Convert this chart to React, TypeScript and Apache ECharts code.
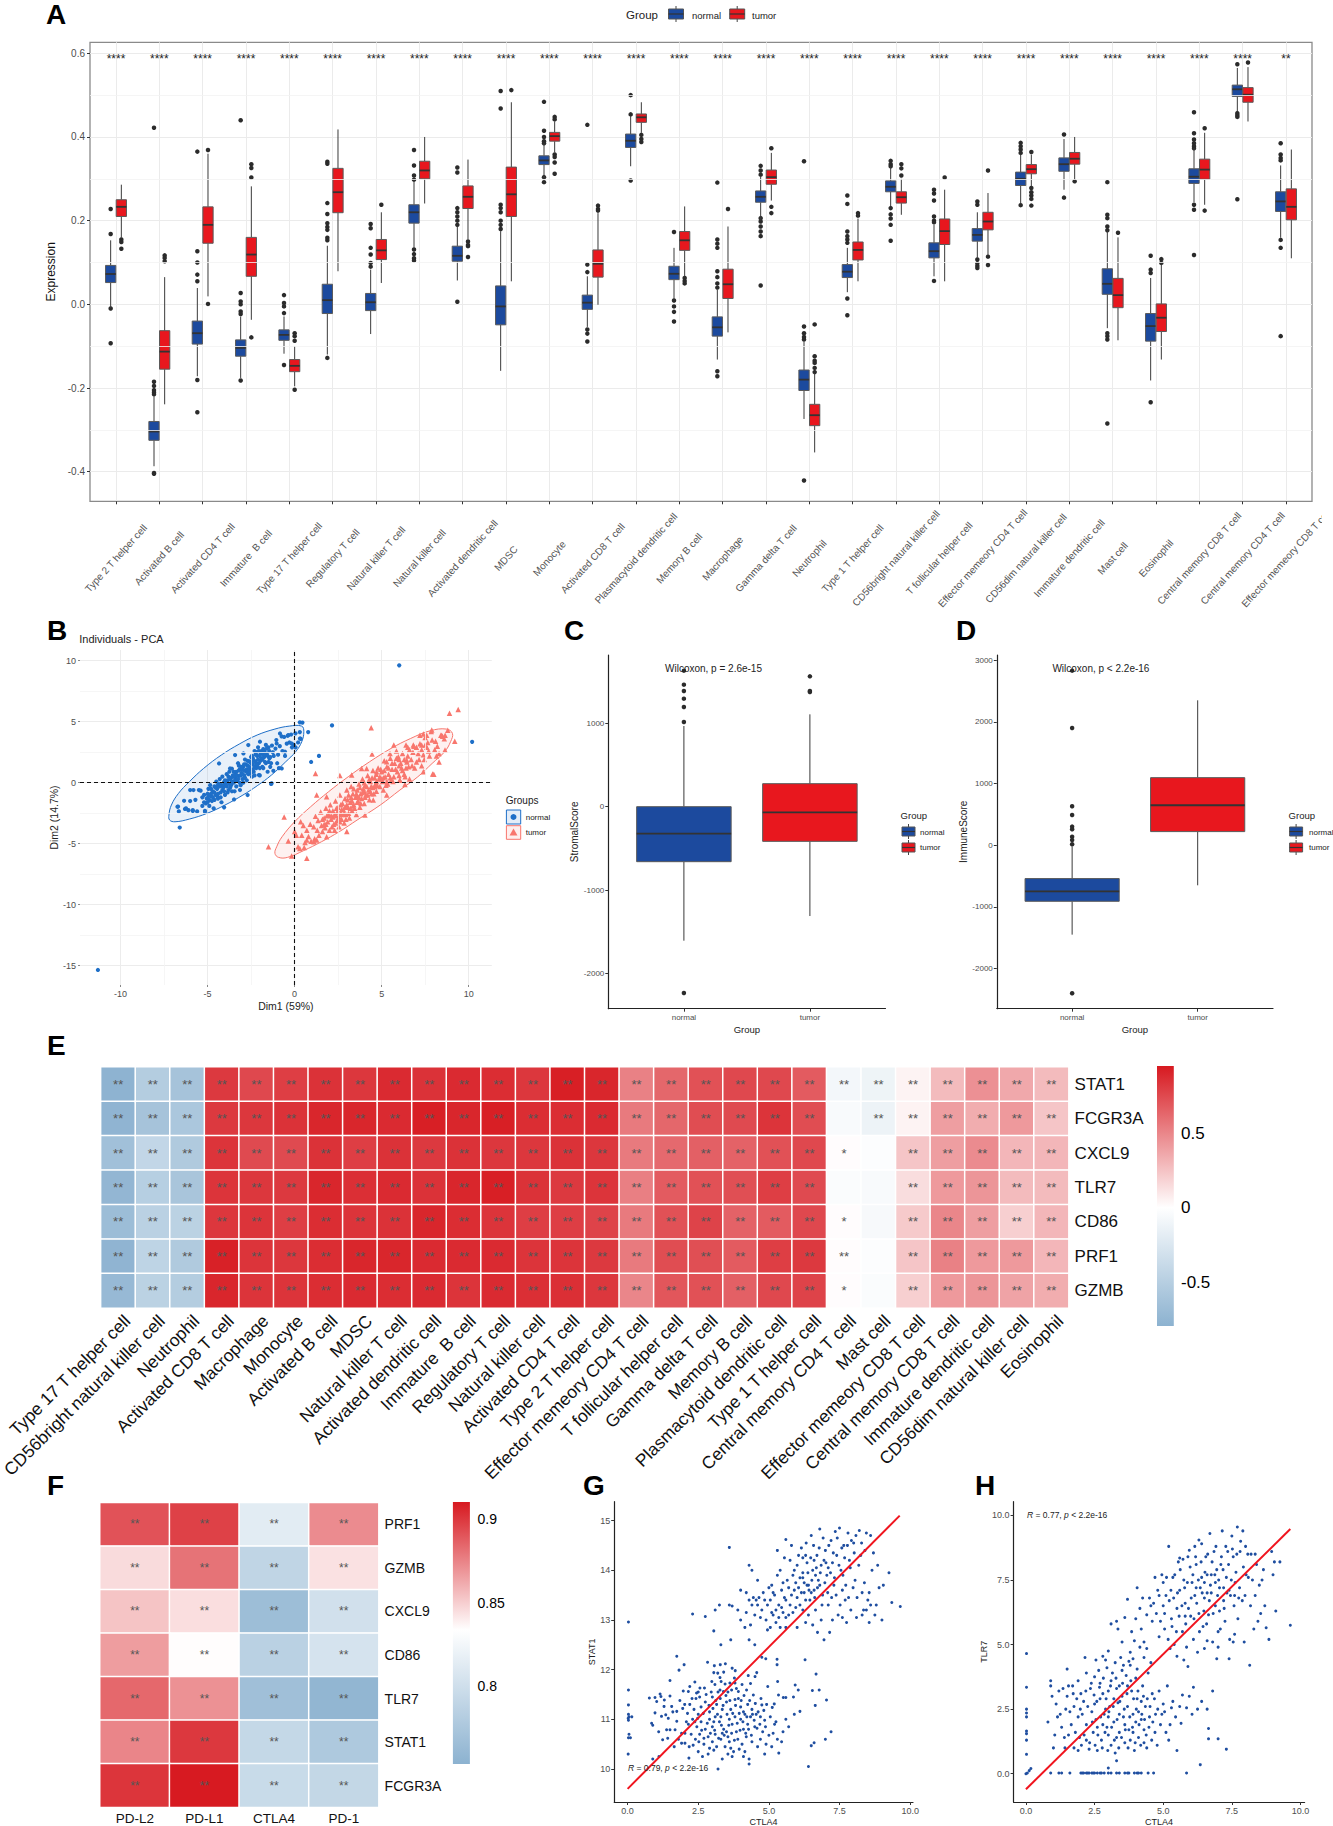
import React, { useEffect, useRef } from 'react';
import * as echarts from 'echarts';

const FONT = '"Liberation Sans", Arial, sans-serif';
const BLUE = '#1C4A9E';
const RED = '#E8171E';

// Panel A: cell types, boxes as [low whisker, q1, median, q3, high whisker]
const cellsA = ['Type 2 T helper cell', 'Activated B cell', 'Activated CD4 T cell', 'Immature  B cell', 'Type 17 T helper cell', 'Regulatory T cell', 'Natural killer T cell', 'Natural killer cell', 'Activated dendritic cell', 'MDSC', 'Monocyte', 'Activated CD8 T cell', 'Plasmacytoid dendritic cell', 'Memory B cell', 'Macrophage', 'Gamma delta T cell', 'Neutrophil', 'Type 1 T helper cell', 'CD56bright natural killer cell', 'T follicular helper cell', 'Effector memeory CD4 T cell', 'CD56dim natural killer cell', 'Immature dendritic cell', 'Mast cell', 'Eosinophil', 'Central memory CD8 T cell', 'Central memory CD4 T cell', 'Effector memeory CD8 T cell'];
const starsA = ['****', '****', '****', '****', '****', '****', '****', '****', '****', '****', '****', '****', '****', '****', '****', '****', '****', '****', '****', '****', '****', '****', '****', '****', '****', '****', '****', '**'];
const normalBoxA = [[-0.009, 0.052, 0.0725, 0.093, 0.153], [-0.387, -0.325, -0.304, -0.28, -0.22], [-0.172, -0.095, -0.069, -0.04, 0.039], [-0.176, -0.124, -0.104, -0.085, -0.029], [-0.118, -0.086, -0.073, -0.061, -0.029], [-0.12, -0.022, 0.01, 0.048, 0.14], [-0.071, -0.015, 0.005, 0.026, 0.083], [0.135, 0.194, 0.22, 0.238, 0.295], [0.057, 0.103, 0.116, 0.139, 0.186], [-0.159, -0.049, -0.005, 0.044, 0.175], [0.3, 0.334, 0.344, 0.355, 0.385], [-0.054, -0.012, 0.004, 0.022, 0.067], [0.33, 0.375, 0.391, 0.407, 0.45], [0.013, 0.059, 0.073, 0.091, 0.135], [-0.132, -0.076, -0.055, -0.03, 0.035], [0.2, 0.244, 0.257, 0.271, 0.305], [-0.274, -0.206, -0.18, -0.157, -0.09], [0.029, 0.064, 0.078, 0.095, 0.135], [0.235, 0.269, 0.281, 0.295, 0.33], [0.067, 0.111, 0.127, 0.147, 0.19], [0.111, 0.151, 0.166, 0.181, 0.22], [0.242, 0.284, 0.3, 0.316, 0.358], [0.274, 0.318, 0.335, 0.35, 0.395], [-0.057, 0.024, 0.049, 0.085, 0.177], [-0.182, -0.088, -0.052, -0.022, 0.063], [0.244, 0.289, 0.305, 0.324, 0.373], [0.461, 0.497, 0.514, 0.524, 0.565], [0.159, 0.222, 0.246, 0.269, 0.332]];
const tumorBoxA = [[0.159, 0.21, 0.233, 0.25, 0.286], [-0.239, -0.155, -0.113, -0.063, 0.065], [0.019, 0.146, 0.19, 0.233, 0.36], [-0.037, 0.067, 0.119, 0.16, 0.282], [-0.196, -0.161, -0.147, -0.132, -0.1], [0.079, 0.219, 0.268, 0.325, 0.418], [0.051, 0.107, 0.129, 0.155, 0.22], [0.241, 0.3, 0.32, 0.342, 0.4], [0.155, 0.229, 0.257, 0.283, 0.346], [0.055, 0.21, 0.263, 0.328, 0.483], [0.363, 0.39, 0.402, 0.411, 0.437], [-0.001, 0.065, 0.097, 0.13, 0.218], [0.41, 0.435, 0.447, 0.455, 0.483], [0.067, 0.129, 0.153, 0.174, 0.234], [-0.067, 0.014, 0.048, 0.084, 0.186], [0.248, 0.287, 0.304, 0.321, 0.362], [-0.354, -0.29, -0.265, -0.239, -0.165], [0.055, 0.106, 0.13, 0.149, 0.205], [0.214, 0.242, 0.256, 0.269, 0.3], [0.055, 0.143, 0.175, 0.204, 0.274], [0.119, 0.178, 0.198, 0.22, 0.266], [0.282, 0.312, 0.323, 0.334, 0.358], [0.298, 0.335, 0.348, 0.363, 0.4], [-0.086, -0.008, 0.022, 0.062, 0.16], [-0.132, -0.065, -0.032, 0.001, 0.095], [0.238, 0.299, 0.322, 0.347, 0.41], [0.437, 0.483, 0.501, 0.518, 0.567], [0.11, 0.202, 0.233, 0.276, 0.37]];
const normalOutA = [[0.228, 0.168, -0.01, -0.093], [0.422, -0.185, -0.195, -0.205, -0.21, -0.215, -0.405, -0.403], [0.365, 0.127, 0.1, 0.071, 0.055, -0.181, -0.258], [0.44, 0.027, 0.007, 0, -0.017, -0.023, -0.182], [0.022, 0.003, -0.005, -0.021, -0.145], [0.341, 0.336, 0.242, 0.216, 0.194, 0.185, 0.178, 0.159, 0.153, -0.128], [0.192, 0.182, 0.135, 0.119, 0.099, 0.09], [0.369, 0.332, 0.308, 0.298, 0.131, 0.12, 0.11, 0.105], [0.327, 0.315, 0.23, 0.22, 0.21, 0.2, 0.19, 0.006], [0.51, 0.468, 0.238, 0.23, 0.22, 0.2, 0.19, 0.18], [0.484, 0.415, 0.4, 0.39, 0.385, 0.304, 0.292], [0.429, 0.095, 0.077, -0.06, -0.07, -0.089], [0.5, 0.454, 0.296], [0.173, 0.009, -0.005, -0.018, -0.041], [0.291, 0.155, 0.145, 0.135, 0.079, 0.065, 0.05, 0.04, -0.16, -0.172], [0.331, 0.32, 0.31, 0.206, 0.198, 0.186, 0.174, 0.163, 0.045], [0.342, -0.053, -0.069, -0.078, -0.084, -0.421], [0.26, 0.24, 0.174, 0.163, 0.155, 0.147, 0.014, -0.026], [0.343, 0.335, 0.33, 0.23, 0.215, 0.205, 0.19, 0.152], [0.274, 0.265, 0.248, 0.21, 0.2, 0.196, 0.056], [0.246, 0.238, 0.107, 0.098, 0.092, 0.087], [0.386, 0.378, 0.37, 0.362, 0.237], [0.406, 0.255], [0.292, 0.214, 0.206, 0.186, 0.177, -0.069, -0.076, -0.084, -0.285], [0.116, 0.083, 0.075, -0.234], [0.459, 0.409, 0.394, 0.385, 0.378, 0.373, 0.238, 0.226, 0.118], [0.574, 0.457, 0.452, 0.448, 0.251], [0.385, 0.358, 0.35, 0.344, 0.154, 0.135, -0.076]];
const tumorOutA = [[0.155, 0.149, 0.133], [0.117, 0.111, 0.103], [0.369, 0.001], [0.335, 0.326, 0.303, -0.079], [-0.069, -0.076, -0.087, -0.204], [], [0.238], [], [0.15, 0.142, 0.139, 0.113], [0.512], [0.448, 0.442, 0.358, 0.352, 0.339, 0.312], [0.236, 0.228, 0.224], [0.405, 0.395, 0.388], [0.063, 0.056, 0.05], [0.228], [0.373, 0.233, 0.218], [-0.048, -0.124, -0.135, -0.14, -0.152, -0.162], [0.218, 0.212], [0.335, 0.325, 0.308], [0.303], [0.32, 0.114, 0.094], [0.364, 0.278, 0.268, 0.26, 0.252, 0.236], [0.294], [0.171], [0.108, 0.099], [0.421, 0.224], [0.578], []];
const minorYA = [-0.3, -0.1, 0.1, 0.3, 0.5];

// Panel B: PCA individuals and confidence ellipses
const pcaNormal = [[6.01, 9.62], [10.2, 3.35], [-11.3, -15.35], [-6.6, -3.67], [2.15, 4.7], [0.3, 4.95], [0.45, 4.93], [0.78, 4.15], [0.95, 1.7], [1.4, 2.2], [-6.7, -1.95], [-6.65, -2.35], [-6.3, -2.15], [-6.1, -2.25], [-5.85, -2.25], [-5.6, -2.35], [-5.3, -1.9], [-6, -1.5], [-5.7, -1.4], [-5.5, -0.6], [-5.4, -0.65], [-5.3, -1.2], [-5.15, -2.3], [-5.2, -1.6], [-5.05, -1.3], [-5, -0.9], [-4.9, -1.9], [-4.95, -0.5], [-4.85, -0.2], [-4.8, -1.1], [-4.75, -1.5], [-4.7, -0.7], [-4.65, -2.1], [-4.6, -0.3], [-4.55, -1], [-4.5, 0.1], [-4.45, -0.5], [-4.4, -1.3], [-4.35, -0.1], [-4.3, 0.3], [-4.25, -0.8], [-4.2, -1.6], [-4.15, 0.5], [-4.1, -0.4], [-4.05, 0.05], [-4, -1], [-3.95, -0.1], [-3.9, 0.7], [-3.85, 0.2], [-3.8, -0.6], [-3.75, 0.9], [-3.7, 0.3], [-3.65, -0.2], [-3.6, 1.15], [-3.55, 0.6], [-3.5, 0], [-3.45, -0.7], [-3.4, 0.4], [-3.35, 0.9], [-3.3, 0.15], [-3.25, 1.6], [-3.2, 0.55], [-3.15, 1.1], [-3.1, -0.2], [-3.05, 0.8], [-3, 0.3], [-2.95, 1.3], [-2.9, 0.6], [-2.85, 1.9], [-2.8, 0.95], [-2.75, 0.2], [-2.7, 1.4], [-2.65, 0.7], [-2.6, 1.75], [-2.55, 1.1], [-2.5, 2.1], [-2.45, 0.5], [-2.4, 1.5], [-2.35, 0.9], [-2.3, 2.6], [-2.25, 1.75], [-2.2, 1.2], [-2.15, 2.2], [-2.1, 2.9], [-2.05, 1.6], [-2, 0.6], [-1.95, 2.4], [-1.9, 2], [-1.85, 1.3], [-1.8, 2.75], [-1.75, 2.1], [-1.7, 1.7], [-1.65, 3.1], [-1.6, 2.4], [-1.55, 0.9], [-1.5, 2.9], [-1.45, 2], [-1.4, 1.3], [-1.35, -0.1], [-1.3, 3.05], [-1.25, 2.5], [-1.2, 2.2], [-1.1, 2.8], [-1.05, 3.5], [-1, 1.6], [-0.95, 2.3], [-0.9, 1.2], [-0.85, 3], [-0.75, 3.8], [-0.7, 2.6], [-0.6, 3.75], [-0.55, 2.2], [-0.45, 3.2], [-0.4, 3.85], [-0.3, 3.3], [-0.2, 3.95], [-0.15, 2.9], [-0.05, 3.1], [0.05, 2.9], [0.05, 4.05], [0.2, 3.3], [0.3, 4.15], [0.35, 3.6], [-4.4, -0.9], [-4.2, -0.2], [-4, 0.2], [-3.8, 0.5], [-3.6, 0.1], [-3.4, 0.7], [-3.2, 1], [-3, 1.1], [-2.8, 1.5], [-2.6, 1.3], [-2.4, 2], [-2.2, 1.6], [-2, 2.2], [-1.8, 2.3], [-3.9, -0.3], [-3.7, -0.4], [-3.5, 0.5], [-3.3, 0.6], [-3.1, 0.6], [-2.9, 1], [-2.7, 0.8], [-2.5, 1.6], [-2.3, 1.3], [-4.6, -0.8], [-4.8, -0.5], [-4.9, -1.4], [-4.3, -0.3],
  [-2.66, 3.09], [-1.99, 3.36], [-0.84, 4.04], [-0.36, 3.9], [-1.03, 3.22], [-0.55, 2.54], [-0.17, 3.22], [0.31, 3.63], [-4.34, 1.58], [-3.42, 2.27], [-2.94, 2.4], [-3.71, 1.17], [-6, -0.6], [-5.81, -0.6], [-6.35, -1.48], [-6.73, -1.97], [-6.24, -2.1], [-5.85, -2.32], [-5.15, -2.38], [-4.05, -2.02], [-3.48, -1.37], [-2.7, -1.01], [-3.14, -0.6], [-1.32, -0.05], [-0.74, 1.17], [-1.22, 0.98], [-2.05, 0.63], [-5.2, -1], [-5.1, -1.7], [-5, -1.6], [-4.95, -1.1], [-4.8, -0.9], [-4.7, -1.2], [-4.6, -1.4], [-4.55, -0.4], [-4.45, -1.1], [-4.4, -0.2], [-4.25, -1.2], [-4.15, -0.6], [-4.05, -0.7], [-4, -0.2], [-3.9, 0.1], [-3.85, -0.8], [-3.75, -0.1], [-3.65, 0.4], [-3.6, -0.7], [-3.5, 0.9], [-3.45, 0.15], [-3.35, -0.3], [-3.25, 0.3], [-3.2, 1.4], [-3.15, 0], [-3.05, 1.3], [-3, 0.7], [-2.95, 0], [-2.9, 1.5], [-2.85, 0.4], [-2.75, 1.1], [-2.7, 1.8], [-2.65, 1], [-2.55, 1.7], [-2.5, 0.8], [-2.45, 2.2], [-2.4, 1.1], [-2.35, 1.8], [-2.3, 0.6], [-2.25, 2.3], [-2.2, 2.5], [-2.15, 1.4], [-2.1, 1.9], [-2.05, 2.6], [-2, 1.2], [-1.95, 1.8], [-1.9, 2.6], [-1.85, 1.9], [-1.8, 1.2], [-1.75, 2.6], [-1.7, 2.3], [-1.65, 1.6], [-1.6, 2.8], [-1.55, 2.2], [-1.5, 1.7], [-1.45, 2.6], [-1.4, 2.1], [-1.35, 1.6]];
const pcaTumor = [[9.4, 6], [8.9, 5.7], [4.4, 4.5], [1.2, 0.75], [-0.6, -2.8], [-1.5, -5.25], [0.7, -6.2], [2.6, 0.6], [9.2, 3.4], [-0.36, -4.78], [0.2, -5.25], [-0.17, -6], [0, -4], [0.1, -4.3], [0.3, -5.4], [0.35, -3.2], [0.5, -3.5], [0.6, -4.9], [0.7, -3.9], [0.8, -4.4], [0.9, -3.4], [0.55, -5.3], [0.95, -4.8], [1.1, -3.6], [1.15, -4.6], [1.2, -2.75], [1.3, -3.9], [1.35, -3.1], [1.4, -4.3], [1.5, -2.4], [1.55, -3.5], [1.6, -4], [1.7, -2.9], [1.75, -3.7], [1.8, -2.1], [1.9, -3.2], [1.95, -2.6], [2, -3.9], [2.05, -1.8], [2.1, -3], [2.2, -2.3], [2.25, -3.4], [2.3, -3.9], [2.35, -1.5], [2.4, -2.7], [2.45, -3.1], [2.5, -2], [2.55, -3.6], [2.6, -1], [2.65, -2.5], [2.7, -3], [2.75, -1.7], [2.8, -2.2], [2.85, -3.3], [2.9, -1.3], [2.95, -2.6], [3, -0.6], [3.05, -2], [3.1, -1], [3.15, -2.9], [3.2, -1.6], [3.25, -0.3], [3.3, -2.3], [3.35, -0.9], [3.4, -1.8], [3.5, -1.2], [3.55, -2.6], [3.6, -0.6], [3.65, -1.5], [3.7, -0.1], [3.75, -2], [3.8, -0.9], [3.85, -1.3], [3.9, 0.3], [3.95, -0.5], [4, -1.7], [4.05, -0.2], [4.1, -1], [4.2, 0.6], [4.25, -0.6], [4.3, -1.4], [4.35, 0.1], [4.4, -0.3], [4.45, 2.35], [4.5, 1], [4.55, -0.9], [4.6, 0.4], [4.65, -0.1], [4.7, -0.7], [4.8, 1.2], [4.85, 0.3], [4.9, -0.3], [5, 0.9], [5.05, 0.1], [5.1, -0.6], [5.15, 1.8], [5.2, 0.5], [5.3, 1.3], [5.35, -0.1], [5.4, 0.7], [5.5, 2], [5.55, 0.2], [5.6, 1.1], [5.7, 3.1], [5.7, 0.5], [5.75, 1.6], [5.85, 2.6], [5.9, 0.9], [6, 1.9], [6.05, 0.2], [6.15, 1.2], [6.2, 2.4], [6.3, 0.7], [6.4, 3.1], [6.45, 1.7], [6.5, 2.9], [6.6, 0.3], [6.7, 1.9], [6.8, 2.5], [6.9, 1.2], [7, 2.9], [7.15, 1.9], [7.2, 3.2], [7.3, 1.4], [7.4, 2.3], [7.5, 3.7], [7.6, 2.9], [7.7, 2.6], [7.85, 4.2], [7.9, 3.5], [8, 0.7], [8.05, 2.7], [8.2, 3], [8.3, 1.7], [8.4, 3.9], [8.5, 3.8], [8.6, 3.6], [8.65, 3.9], [8.8, 4.3], [8.3, 2.4], [7.4, 4], [7.2, 3.9], [1.8, -3.4], [2.2, -2.8], [2.5, -3], [2.7, -2.2], [3, -1.8], [3.3, -1.5], [3.6, -1.1], [4, -0.7], [4.4, -0.9], [4.7, 0.1], [5, 0.3], [5.3, 0.1], [6, 1.4], [6.4, 1.2],
  [1.27, -1.01], [1.84, -1.15], [3.28, 0.63], [3.85, 1.17], [4.14, 1.17], [4.71, 0.9], [5.29, 1.72], [5.48, 2.4], [5.96, 2.13], [6.44, 1.86], [6.82, 3.09], [7.3, 3.09], [7.59, 3.9], [7.88, 4.32], [8.45, 3.9], [8.64, 2.68], [7.93, 0.71], [7.4, 0.9], [6.34, -0.14], [6.05, 0.22], [5.29, -1.01], [4.52, -1.42], [4.04, -2.65], [3, -4], [1.84, -4.43], [1.27, -4.7], [1.11, -4.84], [0.7, -4.7], [0.41, -4.3], [1.6, -3], [1.7, -3.4], [1.85, -2.7], [2, -2.3], [2.1, -2.7], [2.15, -3.6], [2.3, -2.6], [2.35, -3.3], [2.4, -2.1], [2.45, -2.4], [2.55, -2.8], [2.6, -3.2], [2.65, -1.8], [2.7, -2.6], [2.85, -2.5], [2.9, -2], [2.95, -3], [3.05, -1.4], [3.1, -2.5], [3.2, -2.1], [3.25, -1.2], [3.35, -1.9], [3.4, -0.5], [3.45, -2.1], [3.55, -0.9], [3.6, -1.6], [3.7, -1.2], [3.75, -0.4], [3.8, -1.7], [3.9, -0.8], [4, 0], [4.05, -1.2], [4.15, -0.3], [4.2, -1], [4.3, 0.3], [4.35, -0.7], [4.45, 0.4], [4.5, -0.4], [4.6, -0.3], [4.7, 0.7], [4.75, -0.2], [4.9, 0.5], [4.95, 1.1], [5.1, 0.4], [5.15, 1], [5.25, -0.2], [5.4, 1.2], [5.5, 0.4], [5.6, 1.6], [5.65, 0.1], [5.8, 1.1], [5.85, 2], [6, 0.6], [6.1, 1.6], [6.2, 1], [6.3, 1.9], [6.35, 0.5], [6.5, 2.2], [6.55, 1.3], [6.6, 2.7], [6.75, 1.4], [6.85, 3], [7, 1.7], [7.1, 2.4], [7.3, 2.7], [7.45, 1.9], [7.5, 3.1], [7.65, 3.3], [7.75, 2.2], [8.1, 3.4], [8.15, 2.2]];
const ellipseNormal = [[-7.22, -2.65], [-7.08, -1.83], [-6.67, -0.87], [-6.05, 0.08], [-5.23, 1.17], [-4.21, 2.27], [-3.18, 3.17], [-2.15, 3.91], [-1.13, 4.4], [-0.31, 4.64], [0.41, 4.64], [0.53, 4.18], [0.41, 3.36], [0.06, 2.54], [-0.51, 1.72], [-1.33, 0.63], [-2.15, -0.25], [-2.97, -1.01], [-4, -1.83], [-5.03, -2.51], [-6.05, -2.98], [-6.87, -3.2], [-7.18, -3.06]];
const ellipseTumor = [[-1.13, -5.79], [-1.03, -5.25], [-0.72, -4.43], [0, -3.2], [0.92, -1.97], [1.95, -0.74], [3.08, 0.49], [4.31, 1.72], [5.54, 2.81], [6.67, 3.63], [7.79, 4.26], [8.72, 4.4], [9.07, 4.04], [8.96, 3.36], [8.62, 2.54], [7.9, 1.58], [7.08, 0.49], [6.05, -0.6], [4.92, -1.83], [3.59, -3.06], [2.56, -4.02], [1.54, -4.84], [0.51, -5.57], [-0.41, -6.12], [-0.92, -6.12]];

// Panels C and D: estimated scores
const groups = ['normal', 'tumor'];
const stromalBoxes = [[-1608, -660, -324, 0, 968], [-1312, -416, -68, 276, 1108]];
const stromalOut = [[1632, 1464, 1388, 1296, 1196, 1016, -2236], [1564, 1388, 1376]];
const immuneBoxes = [[-1449, -908, -746, -540, -20], [-649, 222, 649, 1097, 2351]];
const immuneOut = [[2832, 1903, 632, 492, 303, 260, 140, 86, 16, -2400], []];

// Panel E: correlation of genes and immune cells (one inner list per column)
const genesE = ['STAT1', 'FCGR3A', 'CXCL9', 'TLR7', 'CD86', 'PRF1', 'GZMB'];
const cellsE = ['Type 17 T helper cell', 'CD56bright natural killer cell', 'Neutrophil', 'Activated CD8 T cell', 'Macrophage', 'Monocyte', 'Activated B cell', 'MDSC', 'Natural killer T cell', 'Activated dendritic cell', 'Immature  B cell', 'Regulatory T cell', 'Natural killer cell', 'Activated CD4 T cell', 'Type 2 T helper cell', 'Effector memeory CD4 T cell', 'T follicular helper cell', 'Gamma delta T cell', 'Memory B cell', 'Plasmacytoid dendritic cell', 'Type 1 T helper cell', 'Central memory CD4 T cell', 'Mast cell', 'Effector memeory CD8 T cell', 'Central memory CD8 T cell', 'Immature dendritic cell', 'CD56dim natural killer cell', 'Eosinophil'];
const valuesE = [[-0.78, -0.77, -0.65, -0.75, -0.68, -0.77, -0.72], [-0.52, -0.62, -0.42, -0.5, -0.48, -0.45, -0.47], [-0.62, -0.58, -0.55, -0.6, -0.47, -0.55, -0.52], [0.82, 0.82, 0.84, 0.84, 0.83, 0.92, 0.9], [0.76, 0.83, 0.75, 0.83, 0.84, 0.84, 0.84], [0.8, 0.85, 0.75, 0.82, 0.8, 0.83, 0.84], [0.85, 0.9, 0.85, 0.9, 0.87, 0.87, 0.87], [0.83, 0.9, 0.8, 0.86, 0.84, 0.9, 0.88], [0.88, 0.88, 0.85, 0.88, 0.85, 0.9, 0.87], [0.85, 0.93, 0.82, 0.85, 0.9, 0.88, 0.88], [0.88, 0.9, 0.85, 0.9, 0.87, 0.88, 0.84], [0.87, 0.93, 0.83, 0.93, 0.84, 0.88, 0.88], [0.83, 0.87, 0.83, 0.85, 0.8, 0.84, 0.86], [0.93, 0.87, 0.85, 0.82, 0.8, 0.84, 0.86], [0.9, 0.88, 0.83, 0.84, 0.78, 0.82, 0.83], [0.52, 0.55, 0.55, 0.53, 0.55, 0.55, 0.5], [0.63, 0.63, 0.62, 0.68, 0.72, 0.74, 0.7], [0.72, 0.74, 0.66, 0.72, 0.78, 0.73, 0.72], [0.76, 0.75, 0.65, 0.73, 0.65, 0.68, 0.66], [0.76, 0.84, 0.72, 0.8, 0.68, 0.8, 0.76], [0.68, 0.74, 0.76, 0.75, 0.76, 0.82, 0.78], [-0.08, -0.05, 0.01, -0.03, 0.01, 0.01, 0.01], [-0.12, -0.13, -0.02, -0.05, -0.06, -0.02, -0.03], [0.05, 0.05, 0.24, 0.14, 0.22, 0.24, 0.2], [0.28, 0.4, 0.4, 0.42, 0.5, 0.52, 0.42], [0.46, 0.34, 0.48, 0.44, 0.4, 0.42, 0.44], [0.36, 0.42, 0.3, 0.28, 0.2, 0.42, 0.38], [0.28, 0.24, 0.3, 0.28, 0.3, 0.3, 0.34]];
const starsCentralCD4 = ['**', '', '*', '', '*', '**', '*'];
const starsMast = ['**', '**', '', '', '', '', ''];
const legendE = [0.5, 0, -0.5];

// Panel F: correlation of genes and checkpoints (one inner list per row)
const genesF = ['PRF1', 'GZMB', 'CXCL9', 'CD86', 'TLR7', 'STAT1', 'FCGR3A'];
const checkpoints = ['PD-L2', 'PD-L1', 'CTLA4', 'PD-1'];
const valuesF = [[0.891, 0.897, 0.813, 0.872], [0.845, 0.88, 0.789, 0.843], [0.853, 0.844, 0.765, 0.801], [0.866, 0.8336, 0.785, 0.804], [0.884, 0.87, 0.767, 0.757], [0.874, 0.9, 0.792, 0.777], [0.901, 0.91, 0.795, 0.791]];
const legendF = [0.9, 0.85, 0.8];

// Panel G: CTLA4 against STAT1
const stat1Points = [[0.03, 12.96], [0.03, 11.59], [0.03, 11.29], [0.03, 11.1], [0.05, 11.05], [0.02, 11.02], [0.03, 10.98], [0.15, 11.05], [0.05, 10.7], [0.03, 10.63], [0.1, 10.63], [0.02, 10.3], [1.74, 12.27], [2, 12.1], [1.82, 11.99], [1.5, 11.78], [2.83, 12.15], [3.07, 12.08], [3.28, 12.1], [3.46, 12.12], [3.7, 12.03], [3.05, 11.94], [3.19, 11.93], [3.4, 11.95], [3.81, 11.98], [4.27, 11.88], [4.57, 11.94], [4.51, 11.86], [3.27, 11.84], [3.78, 11.83], [2.98, 11.76], [3.31, 11.76], [3.8, 11.73], [3.45, 11.71], [3.62, 11.73], [2.38, 11.75], [2.2, 11.66], [2.56, 11.63], [2.72, 11.63], [1.97, 11.57], [2.15, 11.56], [2.44, 11.53], [3.09, 11.7], [3.27, 11.59], [3.39, 11.56], [3.68, 11.59], [3.92, 11.56], [4.21, 11.59], [4.45, 11.49], [4.96, 11.66], [5.31, 11.76], [5.34, 11.49], [5.51, 11.44], [5.6, 11.44], [5.93, 11.69], [6.04, 11.59], [5.87, 11.45], [6.54, 11.58], [6.78, 11.59], [6.67, 11.91], [6.28, 12.2], [5.29, 12.21], [5.29, 12.1], [4.89, 12.22], [4.75, 12.25], [7.04, 11.39], [6.64, 11.28], [5.19, 11.31], [5.12, 11.24], [4.75, 11.29], [0.77, 11.43], [0.97, 11.44], [1.15, 11.51], [1.18, 11.46], [1.03, 11.36], [1.3, 11.39], [1.5, 11.47], [1.29, 11.26], [1.56, 11.26], [0.97, 11.13], [1.2, 11.06], [1.35, 11.09], [0.85, 10.92], [0.89, 10.88], [1.74, 11.16], [1.74, 10.96], [1.44, 11.02], [1.38, 10.79], [1.5, 10.79], [1.68, 10.79], [1.24, 10.59], [1.42, 10.62], [1.91, 10.72], [2.03, 10.72], [1.91, 10.52], [2.03, 10.52], [2.17, 10.22], [0.89, 10.2], [1.11, 10.25], [3.2, 10], [4.3, 10.1], [4.3, 10.2], [4.85, 10.3], [5.35, 10.32], [6.4, 10.05], [6.5, 10.47], [6.6, 10.53], [7, 10.6], [7.2, 10.75], [5.2, 10.9], [5.5, 10.75], [5.6, 11], [5.7, 10.85], [5.9, 11.1], [6.1, 11.16], [5.3, 10.6], [5.45, 10.55], [2.2, 11.3], [2.35, 11.2], [2.5, 11.1], [2.6, 11.25], [2.75, 11.35], [2.9, 11.15], [3, 11.45], [3.15, 11.3], [3.3, 11.05], [3.5, 11.35], [3.65, 11.2], [3.8, 11.4], [4, 11.25], [4.1, 11.15], [4.25, 11.3], [4.4, 11.2], [4.55, 11.1], [4.7, 11.05], [4.85, 10.98], [2.3, 11], [2.45, 10.85], [2.6, 10.95], [2.75, 10.8], [2.9, 11], [3, 10.85], [3.1, 10.7], [3.25, 10.95], [3.4, 10.8], [3.55, 10.65], [3.7, 10.9], [3.85, 10.75], [4, 11], [4.1, 10.8], [4.25, 10.9], [4.35, 11.05], [4.5, 10.85], [2.25, 10.7], [2.4, 10.6], [2.55, 10.7], [2.7, 10.5], [2.85, 10.65], [3, 10.55], [3.15, 10.45], [3.3, 10.6], [3.45, 10.45], [3.6, 10.55], [3.75, 10.35], [3.9, 10.6], [4.05, 10.5], [4.2, 10.65], [2.15, 10.9], [2.5, 10.35], [2.85, 10.3], [3.7, 10.25], [4.15, 10.35], [4.7, 10.6], [3.1, 11.05], [3.35, 11.2], [3.6, 11], [3.95, 11.12], [3.05, 10.95], [3.5, 10.75], [3.8, 11.05], [4.15, 11.1], [5.6, 14.62], [3.6, 14.46], [2.3, 13.12], [2.75, 13.07], [4, 13.6], [3.05, 12.78], [3.3, 12.5], [3.65, 12.6], [4.3, 12.6], [4.5, 12.5], [4.3, 14.1], [4.4, 14], [4.6, 13.8], [3.25, 13.3], [3.6, 13.3], [3.7, 13.28], [3.1, 13.2], [3.9, 13.2], [4, 13], [4.2, 13.15], [4.35, 12.9], [4.4, 13.3], [4.5, 13.1], [4.55, 13.4], [4.65, 13.45], [4.75, 13.2], [4.8, 13.55], [4.9, 13], [4.95, 13.3], [5.05, 13.4], [5.1, 13.7], [5.15, 13.1], [5.2, 13.5], [5.3, 13.9], [5.35, 13.3], [5.4, 12.85], [5.45, 13.6], [5.55, 14.25], [5.6, 13.4], [5.65, 13.8], [5.7, 13.1], [5.75, 14.2], [5.8, 13.5], [5.85, 13.9], [5.95, 13.25], [6, 14.1], [6.05, 13.65], [6.1, 13.3], [6.15, 14.45], [6.2, 13.85], [6.25, 13.55], [6.3, 12.95], [6.35, 14.15], [6.4, 13.7], [6.45, 13.4], [6.5, 14.7], [6.55, 14.0], [6.6, 13.6], [6.65, 13.2], [6.7, 14.3], [6.72, 12.75], [6.75, 13.8], [6.8, 14.83], [6.85, 14.1], [6.9, 13.5], [6.95, 12.6], [7, 14.4], [7.05, 13.9], [7.1, 13.3], [7.15, 12.75], [7.2, 14.6], [7.25, 14.15], [7.3, 13.7], [7.35, 14.78], [7.4, 14.3], [7.45, 13.1], [7.5, 14.85], [7.55, 14], [7.6, 13.6], [7.65, 14.5], [7.7, 13.4], [7.8, 14.75], [7.85, 14.2], [7.9, 13.2], [8, 14.55], [8.05, 13.8], [8.1, 13.05], [8.2, 14.8], [8.25, 14.3], [8.3, 13.55], [8.35, 13.2], [8.4, 14.4], [8.5, 13.4], [8.6, 14.7], [8.65, 14], [8.75, 13.1], [8.9, 13.65], [9.05, 13.7], [9.25, 13.95], [9.65, 13.27], [8.6, 13.3], [6.2, 13.95], [6.35, 13.7], [6.5, 13.55], [6.65, 13.9], [6.8, 13.7], [6.95, 14.2], [7.1, 14.05], [6.3, 14.3], [6.6, 14.2], [5.9, 13.6], [5.5, 13.15], [5.25, 13.2],
  [2.42, 11.42], [2.48, 11.02], [2.55, 11.45], [2.62, 10.78], [2.68, 11.12], [2.78, 11.5], [2.82, 10.92], [2.88, 11.28], [2.93, 10.72], [2.96, 11.55], [3.02, 11.22], [3.08, 10.78], [3.12, 11.38], [3.18, 11.1], [3.22, 10.62], [3.28, 11.42], [3.32, 10.88], [3.38, 11.28], [3.42, 10.68], [3.48, 11.48], [3.52, 11.1], [3.58, 10.88], [3.62, 11.38], [3.68, 10.72], [3.72, 11.12], [3.78, 10.58], [3.82, 11.28], [3.88, 10.92], [3.92, 11.42], [3.98, 10.78], [4.02, 11.38], [4.08, 10.95], [4.12, 11.48], [4.18, 10.72], [4.22, 11.05], [4.28, 10.8], [4.32, 11.38], [4.38, 10.68], [4.42, 11.1], [4.48, 10.98], [4.52, 11.32], [4.58, 10.82], [4.62, 11.15], [4.68, 10.9], [4.72, 11.42], [4.78, 10.75], [4.82, 11.18], [4.88, 10.85], [4.92, 11.3], [5, 10.68], [5.05, 11.05], [5.1, 10.45], [5.15, 10.72], [5.25, 10.95], [2.02, 11.3], [2.08, 10.95], [2.12, 11.12], [2.18, 10.45], [2.28, 11.42], [2.32, 10.48], [2.38, 10.95], [2.52, 10.55], [2.65, 10.25], [2.9, 10.42], [3.05, 10.38], [3.35, 10.2], [3.55, 10.3], [3.95, 10.4], [4.1, 10.25], [1.85, 11.38], [1.95, 11.22], [1.6, 11.15], [1.8, 10.6], [1.65, 10.45], [1.1, 10.75], [2.5, 11.55], [3.2, 11.55], [3.55, 11.55], [3.85, 11.62], [4.05, 11.7], [4.35, 11.72], [2.7, 10.62], [3.35, 10.72], [3.65, 10.42], [4.4, 10.55], [4.6, 10.45], [4.9, 10.5],
  [5.9, 14], [5.95, 13.75], [6, 13.45], [6.05, 14.3], [6.1, 13.85], [6.15, 13.55], [6.2, 14.25], [6.25, 13.75], [6.3, 13.4], [6.32, 14.55], [6.38, 13.95], [6.42, 13.6], [6.48, 14.25], [6.52, 13.8], [6.58, 14.5], [6.62, 13.45], [6.68, 14.05], [6.72, 13.65], [6.78, 14.45], [6.82, 13.95], [6.88, 13.3], [6.92, 14.65], [6.98, 13.75], [7.02, 14.15], [7.08, 13.55], [7.12, 14.5], [7.18, 13.95], [7.22, 13.45], [7.28, 14.35], [7.32, 13.85], [7.38, 13.5], [7.42, 14.65], [7.48, 14.1], [7.52, 13.3], [7.58, 14.45], [7.62, 13.9], [7.68, 14.25], [7.72, 13.7], [7.78, 14.5], [7.82, 13.45], [7.88, 14.05], [7.92, 14.6], [7.98, 13.65], [8.02, 14.35], [8.08, 14.7], [8.12, 13.45], [8.18, 14.1], [8.28, 14.55], [8.38, 13.75], [8.45, 14.75], [8.55, 13.55], [8.7, 14.35], [8.85, 14.1], [9, 13], [5.4, 14], [5.45, 13.25], [5.5, 13.75], [5.55, 13.45], [5.6, 13.05], [5.7, 13.65], [5.75, 13.3], [5.8, 14.5], [5.85, 13.15], [6, 12.85], [6.2, 13.2], [6.4, 13.1], [6.55, 12.9], [6.85, 13], [7.25, 13], [7.6, 13.05], [7.75, 12.95], [5.15, 13.55], [5.1, 13.15], [5, 13.65], [4.85, 13.4], [4.7, 13.05], [4.6, 13.3], [4.45, 13.45], [4.3, 13.4], [4.2, 13.55], [4.15, 12.85], [5.05, 12.85], [5.25, 12.95], [4.95, 12.8], [5.35, 13.05], [5.6, 12.85], [8.3, 13.1], [8.45, 13.2], [8.55, 12.95], [9.35, 13.35], [8.8, 13.3], [5.3, 14.4]];

// Panel H: CTLA4 against TLR7
const tlr7Points = [[0, 0], [0.05, 0.03], [0.12, 0.12], [0.18, 0.2], [0.9, 0.03], [1.2, 0.03], [1.3, 0.03], [1.6, 0.03], [2, 0.03], [2.05, 0.03], [2.1, 0.03], [2.2, 0.03], [2.25, 0.03], [2.3, 0.03], [2.4, 0.03], [2.45, 0.03], [2.5, 0.03], [2.6, 0.03], [2.7, 0.03], [2.75, 0.03], [2.85, 0.03], [3, 0.03], [3.1, 0.03], [3.3, 0.03], [3.4, 0.03], [3.6, 0.03], [3.7, 0.03], [3.75, 0.03], [3.95, 0.03], [4.05, 0.03], [4.1, 0.03], [4.2, 0.03], [4.45, 0.03], [4.65, 0.03], [5.85, 0.03], [0.02, 4.65], [0.02, 3.35], [0.02, 2.5], [0.02, 2.35], [0.02, 2.2], [0.02, 1.65], [0.02, 1.55], [0.02, 1.3], [0.02, 0.75], [3, 0.22], [3.3, 0.5], [6.35, 0.35], [0.9, 3.6], [0.9, 3.4], [1.1, 2.7], [0.8, 2], [1.2, 3.2], [1.25, 2.3], [1, 1], [1.3, 1.8], [1.4, 1.4], [1.5, 4.05], [1.5, 3], [1.6, 2.4], [1.55, 1.5], [1.7, 3.4], [1.75, 2.6], [1.75, 1], [1.9, 3.6], [1.9, 2.2], [1.95, 1.4], [2, 3.1], [2.1, 2.8], [2.15, 4.5], [2.2, 3.9], [2.2, 1.9], [2.3, 0.95], [2.35, 3.3], [2.4, 2.4], [2.45, 1.6], [2.5, 3.75], [2.55, 2.1], [2.6, 0.9], [2.65, 4], [2.7, 2.9], [2.75, 1.3], [2.8, 3.1], [2.85, 2.3], [2.9, 4.4], [2.95, 1.8], [3, 3.2], [3.05, 2.6], [3.1, 1.1], [3.15, 3.9], [3.2, 2], [3.25, 0.8], [3.3, 3.3], [3.35, 2.75], [3.4, 1.6], [3.45, 4.5], [3.5, 3], [3.55, 2.2], [3.6, 1.2], [3.65, 3.8], [3.7, 2.6], [3.75, 1.7], [3.8, 4.2], [3.85, 3.2], [3.9, 2.3], [3.95, 0.9], [4, 3.7], [4.05, 2.9], [4.1, 1.4], [4.15, 4.9], [4.2, 2.1], [4.25, 3.4], [4.3, 1.7], [4.35, 2.6], [4.4, 1], [4.45, 3.9], [4.5, 2.2], [4.6, 3.1], [4.7, 1.6], [4.8, 2.5], [4.9, 1.9], [5, 2.7], [5.15, 3.4], [5.2, 1.3], [5.3, 2.55], [5.5, 0.9], [5.6, 2.6], [5.75, 4.4], [5.85, 2.55], [5.9, 4.15], [6.1, 3.35], [6.25, 2.5], [6.4, 2.8], [6.6, 2.5], [6.65, 1.75], [6.65, 1.35], [6.8, 3.2], [7, 1.35], [7.3, 0.95], [1.9, 0.9], [2.2, 1.3], [2.5, 2.7], [2.8, 1.9], [3, 1.5], [3.2, 2.9], [3.4, 2.3], [3.6, 1.9], [3.8, 1.3], [4, 2], [4.2, 2.8], [4.3, 1.2], [2.7, 3.5], [3.1, 3.6], [3.4, 3.4], [3.7, 3.4], [3, 2.2], [3.3, 1.4], [3.9, 1.6], [4.1, 2.4], [2.6, 1.8], [2.9, 2.5], [3.5, 4], [3.1, 5.8], [3.35, 5.6], [3.6, 6.05], [3.7, 6.75], [3.8, 4.7], [3.95, 5.15], [4.05, 7.2], [4.15, 6.4], [4.3, 5.1], [4.4, 6.15], [4.5, 6.8], [4.6, 5.9], [4.7, 7.6], [4.75, 6.2], [4.85, 5.3], [4.95, 7.7], [5, 6.5], [5.05, 5.6], [5.1, 6.9], [5.2, 8.8], [5.3, 6], [5.35, 7.6], [5.4, 5], [5.5, 6.4], [5.55, 8.2], [5.6, 7.1], [5.7, 5.5], [5.75, 7.5], [5.8, 6.6], [5.85, 4.9], [5.9, 8.4], [6, 6.1], [6.05, 7.4], [6.1, 5.2], [6.15, 6.9], [6.2, 8.1], [6.25, 4.7], [6.3, 6.2], [6.35, 7.2], [6.4, 8.9], [6.45, 5.7], [6.5, 6.8], [6.55, 8.4], [6.6, 7.7], [6.65, 6.15], [6.7, 9.3], [6.75, 7], [6.8, 5.1], [6.85, 8.6], [6.9, 6.5], [6.95, 7.9], [7, 4.9], [7.05, 7.2], [7.1, 8.1], [7.15, 9.4], [7.2, 6.7], [7.25, 5.9], [7.3, 7.6], [7.35, 8.6], [7.4, 4.45], [7.45, 6.9], [7.5, 9.2], [7.55, 8.4], [7.6, 5.4], [7.65, 7.8], [7.7, 9.55], [7.75, 6.8], [7.8, 8.6], [7.9, 9.4], [7.95, 5.1], [8, 8.8], [8.1, 7.6], [8.15, 4.2], [8.2, 8.5], [8.3, 5.6], [8.4, 8.1], [8.55, 6.2], [8.6, 7.5], [8.75, 5.65], [8.85, 5.2], [8.95, 8.6], [9.05, 8.2], [9.25, 8.2], [9.63, 5.75], [8.35, 6.9], [8.7, 6.5], [6.4, 7.6], [6.6, 7], [6.75, 7.7], [6.9, 7.4], [7.05, 6.3], [6.2, 7.2], [6.5, 7.4], [7.2, 7.2], [5.8, 6.1], [7.4, 7.1], [7.6, 6.9],
  [2.05, 2.3], [2.12, 1.5], [2.18, 3.2], [2.25, 2.6], [2.32, 1.2], [2.38, 3.5], [2.42, 2], [2.48, 3.05], [2.52, 1.1], [2.58, 2.8], [2.62, 1.5], [2.68, 3.35], [2.72, 2.2], [2.78, 1], [2.82, 3.7], [2.88, 1.6], [2.92, 2.9], [2.98, 0.9], [3.02, 2.4], [3.08, 3.4], [3.12, 1.8], [3.18, 2.6], [3.22, 1.3], [3.28, 3.7], [3.32, 2.1], [3.38, 1], [3.42, 2.8], [3.48, 1.4], [3.52, 3.5], [3.58, 2.5], [3.62, 1.7], [3.68, 3.1], [3.72, 1], [3.78, 2.2], [3.82, 3.6], [3.88, 1.8], [3.92, 2.9], [3.98, 1.2], [4.02, 2.5], [4.08, 3.2], [4.12, 1.9], [4.18, 1.1], [4.22, 2.3], [4.28, 3], [4.32, 2.1], [4.38, 1.5], [4.42, 2.9], [4.48, 1.8], [4.52, 2.6], [4.58, 1.3], [4.62, 2], [4.68, 2.9], [4.72, 2.3], [4.78, 1.1], [4.85, 3.2], [4.95, 2.3], [1.55, 3.4], [1.65, 1.9], [1.72, 3.1], [1.8, 1.6], [1.85, 2.9], [1.98, 2.5], [2.02, 1.1], [1.45, 2.5], [1.35, 3.3], [1.15, 2.2], [1.05, 1.5], [0.95, 3], [1.42, 1], [2.55, 4.4], [2.95, 4.1], [3.25, 4.3], [3.55, 4.2], [3.9, 4.45], [4.05, 4.05], [4.3, 4.5], [4.4, 4.85], [4.55, 4.3], [5.05, 2.4], [5.1, 1.6], [5.25, 1.9], [5.35, 2.8], [5.45, 2.2], [5.65, 1.95], [5.7, 3.05], [5.95, 3], [6.05, 2.3],
  [4.65, 6.6], [4.8, 7.1], [4.9, 5.9], [5, 7.4], [5.05, 6.2], [5.12, 7.6], [5.18, 5.2], [5.22, 6.7], [5.28, 7.1], [5.32, 5.7], [5.38, 6.8], [5.42, 7.7], [5.48, 5.5], [5.52, 7], [5.58, 6.1], [5.62, 7.9], [5.68, 6.5], [5.72, 8.3], [5.78, 7.2], [5.82, 5.8], [5.88, 7.4], [5.92, 6.4], [5.98, 8], [6.02, 6.8], [6.08, 7.7], [6.12, 6], [6.18, 8.4], [6.22, 6.6], [6.28, 7.5], [6.32, 5.5], [6.38, 8.2], [6.42, 7], [6.48, 6.3], [6.52, 7.8], [6.58, 5.8], [6.62, 8.5], [6.68, 6.7], [6.72, 7.3], [6.78, 8.2], [6.82, 6.2], [6.88, 7.7], [6.92, 8.8], [6.98, 6.9], [7.02, 7.5], [7.08, 5.6], [7.12, 8.4], [7.18, 7.9], [7.22, 6.4], [7.28, 8.8], [7.32, 7], [7.38, 8.1], [7.42, 5.2], [7.48, 7.5], [7.52, 8.7], [7.58, 6.5], [7.62, 7.4], [7.68, 8.5], [7.72, 6], [7.78, 7.2], [7.82, 9], [7.88, 6.7], [7.92, 8], [7.98, 6.9], [8.02, 7.7], [8.08, 8.5], [8.18, 6.5], [8.25, 7.5], [8.35, 8.5], [8.45, 5.9], [8.5, 7.3], [8.65, 7.9], [9, 7.7], [9.1, 6.3], [4.85, 6.9], [4.55, 6.5], [4.25, 6.8], [4.2, 5.6], [4, 6], [3.85, 5.5], [3.75, 4.35], [3.5, 5.1], [3.3, 5.9], [3, 4.75], [2.8, 4.55], [5.25, 4.85], [5.5, 4.55], [5.6, 8.35], [5.95, 8.65], [6.15, 8.8], [6.3, 9.05], [7.55, 5.1], [7, 5.5], [6.95, 4.45], [6.5, 4.85], [6.6, 5.15]];
const lineG = [[0, 9.6], [9.63, 15.1]];
const lineH = [[0, -0.6], [9.63, 9.47]];
const ticks25 = [0, 2.5, 5, 7.5, 10];

const HEAT_RED = 'rgb(215,25,32)';
const HEAT_BLUE = 'rgb(140,178,208)';
const E_MIN = -0.795;
const E_MAX = 0.953;
const F_MIN = 0.753;
const F_MAX = 0.9104;
const F_WHITE = 0.8336;
// visualMap colours are evenly spaced, so white is put in its place with a repeated ramp
const rampColors = (blueSteps: number, redSteps: number) => {
  const mix = (a: number[], t: number) => `rgb(${a.map((x) => Math.round(255 + (x - 255) * t)).join(',')})`;
  const out: string[] = [];
  for (let i = blueSteps; i > 0; i--) out.push(mix([140, 178, 208], i / blueSteps));
  out.push('#fff');
  for (let i = 1; i <= redSteps; i++) out.push(mix([215, 25, 32], i / redSteps));
  return out;
};

const tickStyle = { show: true, length: 3, lineStyle: { color: '#333', width: 1 } };

function valueAxis(gridIndex: number, min: number, max: number, ticks: number[], extra: any = {}) {
  const { axisLabel, axisTick, axisLine, ...rest } = extra;
  return {
    type: 'value',
    gridIndex,
    min,
    max,
    axisTick: { ...tickStyle, customValues: ticks, ...axisTick },
    axisLabel: { customValues: ticks, fontSize: 9, color: '#4d4d4d', margin: 4, ...axisLabel },
    axisLine: { show: true, onZero: false, lineStyle: { color: '#222', width: 1.2 }, ...axisLine },
    splitLine: { show: false },
    nameLocation: 'middle',
    ...rest,
  };
}

function boxSeries(boxes: number[][], offset: number, width: number, color: string, axis: number) {
  return {
    type: 'custom',
    xAxisIndex: axis,
    yAxisIndex: axis,
    z: 3,
    clip: false,
    data: boxes.map((b, i) => [i + 1 + offset, ...b]),
    encode: { x: 0, y: [1, 2, 3, 4, 5] },
    renderItem: (_: any, api: any) => {
      const x = api.value(0);
      const p = [1, 2, 3, 4, 5].map((d) => api.coord([x, api.value(d)]));
      const w = api.size([width, 0])[0];
      const cx = p[0][0];
      const whisker = { stroke: '#3a3a3a', lineWidth: 1 };
      return {
        type: 'group',
        children: [
          { type: 'line', shape: { x1: cx, y1: p[0][1], x2: cx, y2: p[1][1] }, style: whisker },
          { type: 'line', shape: { x1: cx, y1: p[3][1], x2: cx, y2: p[4][1] }, style: whisker },
          { type: 'rect', shape: { x: cx - w / 2, y: p[3][1], width: w, height: p[1][1] - p[3][1] }, style: { fill: color, stroke: '#5a5a5a', lineWidth: 1 } },
          { type: 'line', shape: { x1: cx - w / 2, y1: p[2][1], x2: cx + w / 2, y2: p[2][1] }, style: { stroke: '#333', lineWidth: 1.8 } },
        ],
      };
    },
  };
}

function outlierSeries(outliers: number[][], offset: number, axis: number, size: number) {
  const data: number[][] = [];
  outliers.forEach((list, i) => list.forEach((v) => data.push([i + 1 + offset, v])));
  return { type: 'scatter', xAxisIndex: axis, yAxisIndex: axis, z: 2, symbolSize: size, itemStyle: { color: '#2b2b2b', opacity: 1 }, data };
}

function refLines(axis: number, xs: number[], ys: number[], style: any) {
  return {
    type: 'scatter',
    xAxisIndex: axis,
    yAxisIndex: axis,
    data: [],
    z: 1,
    markLine: {
      silent: true,
      symbol: 'none',
      label: { show: false },
      lineStyle: style,
      data: [...xs.map((xAxis) => ({ xAxis })), ...ys.map((yAxis) => ({ yAxis }))],
    },
  };
}

function ellipseSeries(points: number[][], color: string, fill: string) {
  return {
    type: 'custom',
    xAxisIndex: 1,
    yAxisIndex: 1,
    z: 2,
    clip: false,
    data: [[0, 0]],
    renderItem: (_: any, api: any) => ({
      type: 'polygon',
      shape: { points: points.map((p) => api.coord(p)), smooth: 0.4 },
      style: { fill, stroke: color, lineWidth: 1 },
    }),
  };
}

function heatSeries(axis: number, data: any[], fontSize: number) {
  return {
    type: 'heatmap',
    xAxisIndex: axis,
    yAxisIndex: axis,
    data,
    emphasis: { disabled: true },
    itemStyle: { borderColor: '#fff', borderWidth: 1.5 },
    label: { show: true, formatter: (p: any) => p.data.stars, fontSize, color: '#555', fontFamily: FONT },
  };
}

function text(x: number, y: number, value: string, fontSize: number, extra: any = {}) {
  return { type: 'text', x, y, z: 20, style: { text: value, fontSize, fontFamily: FONT, fill: '#222', align: 'left', verticalAlign: 'middle', ...extra } };
}

function boxKey(x: number, y: number, w: number, h: number, color: string) {
  const cx = x + w / 2;
  return [
    { type: 'line', z: 20, shape: { x1: cx, y1: y - 3, x2: cx, y2: y + h + 3 }, style: { stroke: '#444', lineWidth: 1 } },
    { type: 'rect', z: 20, shape: { x, y, width: w, height: h }, style: { fill: color, stroke: '#555', lineWidth: 1 } },
    { type: 'line', z: 20, shape: { x1: x, y1: y + h / 2, x2: x + w, y2: y + h / 2 }, style: { stroke: '#333', lineWidth: 1.2 } },
  ];
}

function gradientBar(x: number, y: number, w: number, h: number, whiteAt: number) {
  return {
    type: 'rect',
    z: 20,
    shape: { x, y, width: w, height: h },
    style: {
      fill: {
        type: 'linear', x: 0, y: 0, x2: 0, y2: 1,
        colorStops: [{ offset: 0, color: HEAT_RED }, { offset: whiteAt, color: '#fff' }, { offset: 1, color: HEAT_BLUE }],
      },
    },
  };
}

const richItalic = { rich: { i: { fontStyle: 'italic', fontSize: 8.5, fontFamily: FONT, fill: '#222' } } };

const panelGraphics: any[] = [
  ...[['A', 46, 14], ['B', 47, 630], ['C', 564, 630], ['D', 956, 630], ['E', 47, 1045], ['F', 47, 1485], ['G', 583, 1485], ['H', 975, 1485]].map(([t, x, y]) =>
    text(x as number, y as number, t as string, 28, { fontWeight: 'bold', fill: '#000' })),
  // A legend
  text(626, 15, 'Group', 11.5),
  ...boxKey(668.5, 9, 15, 10, BLUE), text(692, 15, 'normal', 9.5),
  ...boxKey(729.7, 9, 15, 10, RED), text(752, 15, 'tumor', 9.5),
  // the source image crops the last label of panel A at its right side
  { type: 'rect', z: 30, shape: { x: 1322, y: 503, width: 11, height: 60 }, style: { fill: '#fff' } },
  // B title and legend
  text(79.3, 639, 'Individuals - PCA', 11),
  text(505.7, 800, 'Groups', 10),
  { type: 'rect', z: 20, shape: { x: 506.4, y: 810, width: 14.3, height: 14 }, style: { fill: 'rgba(30,111,200,0.12)', stroke: '#1E6FC8', lineWidth: 1 } },
  { type: 'circle', z: 20, shape: { cx: 513.5, cy: 817, r: 3 }, style: { fill: '#1E6FC8' } },
  text(525.7, 817, 'normal', 8),
  { type: 'rect', z: 20, shape: { x: 506.4, y: 825.7, width: 14.3, height: 13.6 }, style: { fill: 'rgba(248,118,109,0.12)', stroke: '#F8766D', lineWidth: 1 } },
  { type: 'polygon', z: 20, shape: { points: [[513.5, 828.5], [517.5, 835.5], [509.5, 835.5]] }, style: { fill: '#F8766D' } },
  text(525.7, 832.7, 'tumor', 8),
  // C legend and note
  text(665, 668, 'Wilcoxon, p = 2.6e-15', 10),
  text(900.6, 815, 'Group', 9.5),
  ...boxKey(902, 827, 13, 9, BLUE), text(920, 832, 'normal', 8),
  ...boxKey(902, 843, 13, 9, RED), text(920, 847, 'tumor', 8),
  // D legend and note
  text(1052.4, 668, 'Wilcoxon, p < 2.2e-16', 10),
  text(1288.6, 815, 'Group', 9.5),
  ...boxKey(1289.6, 827, 13, 9, BLUE), text(1309, 832, 'normal', 8),
  ...boxKey(1289.6, 843, 13, 9, RED), text(1309, 847, 'tumor', 8),
  // E colour bar
  gradientBar(1157, 1066, 16.8, 260, 0.545),
  ...legendE.map((v) => text(1181, 1207.7 - v * 148.7, String(v), 17, { fill: '#000' })),
  // F colour bar
  gradientBar(452.9, 1502, 17, 262, 0.489),
  ...legendF.map((v) => text(477.5, 1519.3 + ((0.9 - v) / 0.05) * 83.2, String(v), 14, { fill: '#000' })),
  // G and H notes
  text(628, 1768, '{i|R} = 0.79, {i|p} < 2.2e-16', 8.5, richItalic),
  text(1027, 1515, '{i|R} = 0.77, {i|p} < 2.2e-16', 8.5, richItalic),
];

const App: React.FC = () => {
  const chartRef = useRef<HTMLDivElement>(null);

  useEffect(() => {
    if (!chartRef.current) return;
    const chart = echarts.init(chartRef.current, undefined, { renderer: 'svg' });

    const ticksA = cellsA.map((_, i) => i + 1);
    const heatE: any[] = [];
    valuesE.forEach((col, i) => col.forEach((v, j) => {
      const stars = i === 21 ? starsCentralCD4[j] : i === 22 ? starsMast[j] : '**';
      heatE.push({ value: [i, j, v], stars });
    }));
    const heatF: any[] = [];
    valuesF.forEach((row, j) => row.forEach((v, i) => {
      heatF.push({ value: [i, j, v], stars: '**' });
    }));

    const lightGrid = { show: true, lineStyle: { color: '#ebebeb', width: 1 } };
    const series: any[] = [
      // A
      refLines(0, [], minorYA, { color: '#f3f3f3', width: 0.8, type: 'solid' }),
      outlierSeries(normalOutA, -0.123, 0, 4.5),
      outlierSeries(tumorOutA, 0.123, 0, 4.5),
      boxSeries(normalBoxA, -0.123, 0.237, BLUE, 0),
      boxSeries(tumorBoxA, 0.123, 0.237, RED, 0),
      {
        type: 'custom',
        xAxisIndex: 0,
        yAxisIndex: 0,
        z: 4,
        data: ticksA.map((x) => [x, 0.586]),
        renderItem: (params: any, api: any) => {
          const [x, y] = api.coord([api.value(0), api.value(1)]);
          return { type: 'text', x, y, style: { text: starsA[params.dataIndex], fontSize: 12, fontFamily: FONT, fill: '#222', align: 'center', verticalAlign: 'middle' } };
        },
      },
      // B
      refLines(1, [-7.5, -2.5, 2.5, 7.5], [7.5, 2.5, -2.5, -7.5, -12.5], { color: '#f4f4f4', width: 0.8, type: 'solid' }),
      ellipseSeries(ellipseNormal, '#1E6FC8', 'rgba(30,111,200,0.1)'),
      ellipseSeries(ellipseTumor, '#F8766D', 'rgba(248,118,109,0.1)'),
      { type: 'scatter', xAxisIndex: 1, yAxisIndex: 1, z: 3, symbolSize: 4.2, itemStyle: { color: '#1E6FC8', opacity: 1 }, data: pcaNormal },
      { type: 'scatter', xAxisIndex: 1, yAxisIndex: 1, z: 3, symbol: 'triangle', symbolSize: 5.5, itemStyle: { color: '#F8766D', opacity: 1 }, data: pcaTumor },
      { ...refLines(1, [0], [0], { color: '#111', width: 1.1, type: [4, 3] }), z: 4 },
      // C
      outlierSeries(stromalOut, 0, 2, 4.5),
      boxSeries(stromalBoxes.slice(0, 1), 0, 0.75, BLUE, 2),
      boxSeries(stromalBoxes.slice(1), 1, 0.75, RED, 2),
      // D
      outlierSeries(immuneOut, 0, 3, 4.5),
      boxSeries(immuneBoxes.slice(0, 1), 0, 0.75, BLUE, 3),
      boxSeries(immuneBoxes.slice(1), 1, 0.75, RED, 3),
      // E and F
      heatSeries(4, heatE, 13),
      heatSeries(5, heatF, 12),
      // G
      { type: 'scatter', xAxisIndex: 6, yAxisIndex: 6, z: 2, symbolSize: 3, itemStyle: { color: '#1F4EA0', opacity: 1 }, data: stat1Points },
      { type: 'line', xAxisIndex: 6, yAxisIndex: 6, z: 3, showSymbol: false, clip: false, lineStyle: { color: '#F0141E', width: 2 }, data: lineG },
      // H
      { type: 'scatter', xAxisIndex: 7, yAxisIndex: 7, z: 2, symbolSize: 3, itemStyle: { color: '#1F4EA0', opacity: 1 }, data: tlr7Points },
      { type: 'line', xAxisIndex: 7, yAxisIndex: 7, z: 3, showSymbol: false, clip: false, lineStyle: { color: '#F0141E', width: 2 }, data: lineH },
    ];
    const heatIndex = (axis: number) => series.findIndex((s) => s.type === 'heatmap' && s.xAxisIndex === axis);

    const option: any = {
      animation: false,
      textStyle: { fontFamily: FONT },
      graphic: { elements: panelGraphics },
      visualMap: [
        { type: 'continuous', show: false, seriesIndex: heatIndex(4), dimension: 2, min: E_MIN, max: E_MAX, inRange: { color: rampColors(25, 30) } },
        { type: 'continuous', show: false, seriesIndex: heatIndex(5), dimension: 2, min: F_MIN, max: F_MAX, inRange: { color: rampColors(Math.round((F_WHITE - F_MIN) * 400), Math.round((F_MAX - F_WHITE) * 400)) } },
      ],
      grid: [
        { left: 90, top: 42.3, width: 1222, height: 459, show: true, borderColor: '#8a8a8a', borderWidth: 1.3, outerBoundsMode: 'none' },
        { left: 80, top: 650, width: 411.8, height: 335, outerBoundsMode: 'none' },
        { left: 608.3, top: 655, width: 277.2, height: 353.7, outerBoundsMode: 'none' },
        { left: 996.8, top: 655, width: 276.2, height: 353.7, outerBoundsMode: 'none' },
        { left: 100.9, top: 1067, width: 967.7, height: 241, outerBoundsMode: 'none' },
        { left: 100, top: 1502.7, width: 278.6, height: 304.6, outerBoundsMode: 'none' },
        { left: 614.2, top: 1501.7, width: 298.8, height: 300.3, outerBoundsMode: 'none' },
        { left: 1013.6, top: 1501.7, width: 291, height: 300.3, outerBoundsMode: 'none' },
      ],
      xAxis: [
        valueAxis(0, 0.4, 28.6, ticksA, {
          axisLine: { show: false },
          splitLine: lightGrid,
          axisLabel: { formatter: (v: number) => cellsA[v - 1], rotate: 48, align: 'center', verticalAlign: 'middle', margin: 57, fontSize: 10, color: '#555' },
        }),
        valueAxis(1, -12.33, 11.33, [-10, -5, 0, 5, 10], {
          axisLine: { show: false },
          splitLine: { show: true, lineStyle: { color: '#ececec', width: 1 } },
          axisTick: { lineStyle: { color: '#888' }, length: 2 },
          name: 'Dim1 (59%)', nameGap: 15, nameTextStyle: { fontSize: 10.5, color: '#222' },
        }),
        valueAxis(2, 0.4, 2.6, [1, 2], {
          axisLabel: { formatter: (v: number) => groups[v - 1], fontSize: 8, margin: 5 },
          name: 'Group', nameGap: 16, nameTextStyle: { fontSize: 9.5, color: '#222' },
        }),
        valueAxis(3, 0.4, 2.6, [1, 2], {
          axisLabel: { formatter: (v: number) => groups[v - 1], fontSize: 8, margin: 5 },
          name: 'Group', nameGap: 16, nameTextStyle: { fontSize: 9.5, color: '#222' },
        }),
        {
          type: 'category', gridIndex: 4, data: cellsE, position: 'bottom',
          axisLine: { show: false }, axisTick: { show: false }, axisLabel: { show: false }, splitArea: { show: false },
        },
        {
          type: 'category', gridIndex: 5, data: checkpoints, position: 'bottom',
          axisLine: { show: false }, axisTick: { show: false },
          axisLabel: { fontSize: 13.5, color: '#111', margin: 4 },
        },
        valueAxis(6, -0.474, 10.1, ticks25, {
          axisLabel: { formatter: (v: number) => v.toFixed(1) },
          name: 'CTLA4', nameGap: 15, nameTextStyle: { fontSize: 9, color: '#222' },
        }),
        valueAxis(7, -0.45, 10.15, ticks25, {
          axisLabel: { formatter: (v: number) => v.toFixed(1) },
          name: 'CTLA4', nameGap: 15, nameTextStyle: { fontSize: 9, color: '#222' },
        }),
        // labels of panel E, set off from the cell centres
        valueAxis(4, -0.5, 27.5, cellsE.map((_, i) => i + 0.26), {
          position: 'bottom',
          axisLine: { show: false },
          axisTick: { show: false },
          axisLabel: { formatter: (v: number) => cellsE[Math.round(v - 0.26)], rotate: 45, fontSize: 17.5, color: '#111', margin: 10 },
        }),
      ],
      yAxis: [
        valueAxis(0, -0.4708, 0.6263, [-0.4, -0.2, 0, 0.2, 0.4, 0.6], {
          axisLine: { show: false },
          splitLine: lightGrid,
          axisLabel: { fontSize: 10, margin: 5, formatter: (v: number) => v.toFixed(1) },
          name: 'Expression', nameGap: 24, nameTextStyle: { fontSize: 12, color: '#111' },
        }),
        valueAxis(1, -16.58, 10.88, [-15, -10, -5, 0, 5, 10], {
          axisLine: { show: false },
          splitLine: { show: true, lineStyle: { color: '#ececec', width: 1 } },
          axisTick: { lineStyle: { color: '#888' }, length: 2 },
          name: 'Dim2 (14.7%)', nameGap: 19, nameTextStyle: { fontSize: 10.5, color: '#222' },
        }),
        valueAxis(2, -2424, 1820, [-2000, -1000, 0, 1000], {
          axisLabel: { fontSize: 8, formatter: (v: number) => String(v) },
          name: 'StromalScore', nameGap: 27, nameTextStyle: { fontSize: 10, color: '#222' },
        }),
        valueAxis(3, -2650, 3086, [-2000, -1000, 0, 1000, 2000, 3000], {
          axisLabel: { fontSize: 8, formatter: (v: number) => String(v) },
          name: 'ImmuneScore', nameGap: 27, nameTextStyle: { fontSize: 10, color: '#222' },
        }),
        {
          type: 'category', gridIndex: 4, data: genesE, inverse: true, position: 'right',
          axisLine: { show: false }, axisTick: { show: false },
          axisLabel: { fontSize: 17, color: '#111', margin: 6 },
        },
        {
          type: 'category', gridIndex: 5, data: genesF, inverse: true, position: 'right',
          axisLine: { show: false }, axisTick: { show: false },
          axisLabel: { fontSize: 14, color: '#111', margin: 6 },
        },
        valueAxis(6, 9.336, 15.38, [10, 11, 12, 13, 14, 15], {
          name: 'STAT1', nameGap: 18, nameTextStyle: { fontSize: 9, color: '#222' },
        }),
        valueAxis(7, -1.095, 10.53, ticks25, {
          axisLabel: { formatter: (v: number) => v.toFixed(1) },
          name: 'TLR7', nameGap: 24, nameTextStyle: { fontSize: 9, color: '#222' },
        }),
      ],
      series,
    };

    chart.setOption(option);
    return () => chart.dispose();
  }, []);

  return <div ref={chartRef} style={{ position: 'absolute', left: 0, top: 0, width: 1333, height: 1826 }} />;
};

export default App;
